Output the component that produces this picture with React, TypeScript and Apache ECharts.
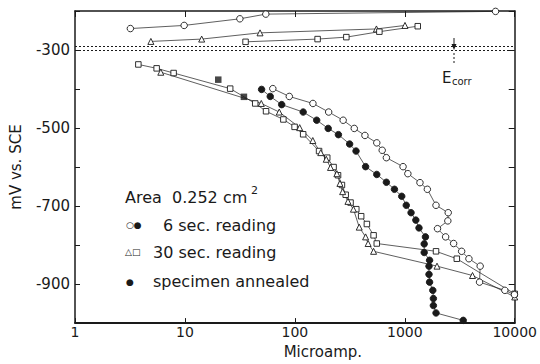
import React, { useEffect, useRef } from "react";
import * as echarts from "echarts";

// Tick labels shown on the potential axis
const yLabels = [-300, -500, -700, -900];

// Anodic branches (current in microamp, potential in mV vs SCE)
const circlesAnodic = [[3.19, -245], [9.84, -237], [31.6, -220], [54.4, -208], [6690, -201]];
const trianglesAnodic = [[4.9, -278], [14.2, -272], [48.2, -256], [552, -246], [1004, -237]];
const squaresAnodic = [[35.6, -279], [161, -272], [294, -267], [587, -253], [1312, -239]];

// Cathodic branches, 30 sec reading
const squaresCathodic = [
  [3.77, -337], [5.53, -347], [7.89, -359], [25.8, -399], [43.6, -437], [54.7, -457],
  [78.6, -478], [99.4, -497], [119, -516], [166, -559], [197, -576], [225, -600],
  [247, -621], [268, -646], [290, -671], [321, -691], [362, -708], [401, -726],
  [452, -746], [520, -775], [556, -796], [1923, -816], [2972, -835], [10000, -925],
];
const trianglesCathodic = [
  [6.03, -357], [49.5, -437], [72.1, -459], [110.6, -499], [145.6, -532], [172, -563],
  [193, -580], [211, -601], [241, -617], [257, -642], [272, -663], [304, -688],
  [341, -708], [385, -754], [440, -779], [464, -796], [520, -816], [1963, -854],
  [4130, -878], [10000, -933],
];
const filledSquares = [[20.1, -376], [34.4, -420]];

// Cathodic branches, 6 sec reading
const circlesCathodic = [
  [63, -399], [89, -419], [146, -437], [203, -459], [275, -480], [347, -501], [434, -519],
  [556, -538], [623, -557], [680, -576], [964, -599], [1066, -617], [1374, -640],
  [1604, -657], [1922, -698], [2483, -717], [2462, -738], [1983, -758], [2351, -779],
  [2780, -796], [3288, -816], [3830, -835], [4850, -854], [4785, -895], [8130, -916],
  [9940, -927],
];
const filledCircles = [
  [49.8, -401], [59.7, -419], [75.9, -440], [119, -459], [158, -480], [201, -501],
  [249, -517], [315, -541], [360, -559], [440, -599], [556, -619], [680, -639],
  [805, -657], [938, -675], [1031, -698], [1140, -717], [1260, -736], [1346, -756],
  [1541, -779], [1501, -797], [1501, -819], [1680, -839], [1660, -854], [1660, -875],
  [1680, -895], [1798, -916], [1820, -937], [1820, -955], [1923, -974], [3400, -993],
];

// Corrosion potential band
const ecorrLines = [-290.5, -301.5];

const FONT = "DejaVu Sans";
const INK = "#1a1a1a";

function lineSeries(data: number[][], symbol: string, size: number, filled: boolean, name: string) {
  return {
    name,
    type: "line",
    data,
    symbol,
    symbolSize: size,
    showAllSymbol: true,
    lineStyle: { color: INK, width: 0.7 },
    itemStyle: { color: filled ? INK : "#fff", borderColor: INK, borderWidth: 0.9 },
    z: 3,
  };
}

export default function App() {
  const ref = useRef<HTMLDivElement>(null);
  useEffect(() => {
    if (!ref.current) return;
    const chart = echarts.init(ref.current, null, { renderer: "svg" });
    const option: any = {
      animation: false,
      backgroundColor: "#fff",
      grid: { left: 74, right: 8, top: 11, bottom: 32 },
      xAxis: [
        {
          type: "log",
          logBase: 10,
          min: 1,
          max: 10000,
          position: "bottom",
          name: "Microamp.",
          nameLocation: "middle",
          nameGap: 13,
          nameTextStyle: { fontFamily: FONT, fontSize: 15, color: INK, padding: [0, 0, 0, 56] },
          axisLine: { lineStyle: { color: INK, width: 1.8 } },
          axisTick: { inside: true, length: 5, lineStyle: { color: INK } },
          minorTick: { show: false },
          splitLine: { show: false },
          axisLabel: {
            fontFamily: FONT,
            fontSize: 14,
            color: INK,
            margin: 2,
            formatter: (v: number) => String(Math.round(v)),
          },
        },
        {
          type: "log",
          logBase: 10,
          min: 1,
          max: 10000,
          position: "top",
          axisLine: { lineStyle: { color: INK, width: 1.5 } },
          axisTick: { inside: true, length: 6, lineStyle: { color: INK } },
          axisLabel: { show: false },
          splitLine: { show: false },
        },
      ],
      yAxis: [
        {
          type: "value",
          min: -1000,
          max: -200,
          interval: 100,
          name: "mV vs. SCE",
          nameLocation: "middle",
          nameGap: 52,
          nameRotate: 90,
          nameTextStyle: { fontFamily: FONT, fontSize: 15, color: INK },
          axisLine: { show: true, lineStyle: { color: INK, width: 1.5 } },
          axisTick: { show: true, inside: true, length: 5, lineStyle: { color: INK } },
          splitLine: { show: false },
          axisLabel: {
            fontFamily: FONT,
            fontSize: 15,
            color: INK,
            margin: 5,
            formatter: (v: number) => (yLabels.includes(v) ? String(v) : ""),
          },
        },
        {
          type: "value",
          min: -1000,
          max: -200,
          interval: 100,
          position: "right",
          axisLine: { show: true, lineStyle: { color: INK, width: 1.5 } },
          axisTick: { show: true, inside: true, length: 6, lineStyle: { color: INK } },
          axisLabel: { show: false },
          splitLine: { show: false },
        },
      ],
      series: [
        {
          ...lineSeries(circlesAnodic, "circle", 6.5, false, "6 sec anodic"),
          markLine: {
            silent: true,
            symbol: "none",
            label: { show: false },
            lineStyle: { color: INK, width: 1, type: [2, 2] },
            data: ecorrLines.map((v) => ({ yAxis: v })),
          },
        },
        lineSeries(trianglesAnodic, "triangle", 6, false, "30 sec anodic A"),
        lineSeries(squaresAnodic, "rect", 5.5, false, "30 sec anodic B"),
        lineSeries(squaresCathodic, "rect", 5.5, false, "30 sec cathodic B"),
        lineSeries(trianglesCathodic, "triangle", 6, false, "30 sec cathodic A"),
        {
          name: "30 sec filled",
          type: "scatter",
          data: filledSquares,
          symbol: "rect",
          symbolSize: 6.5,
          itemStyle: { color: INK },
          z: 4,
        },
        lineSeries(circlesCathodic, "circle", 6.5, false, "6 sec cathodic"),
        lineSeries(filledCircles, "circle", 6.5, true, "specimen annealed"),
      ],
      graphic: [
        { type: "line", shape: { x1: 454, y1: 38, x2: 454, y2: 46 }, style: { stroke: INK, lineWidth: 1 } },
        { type: "polygon", shape: { points: [[451.5, 44], [456.5, 44], [454, 50]] }, style: { fill: INK } },
        { type: "line", shape: { x1: 454, y1: 53, x2: 454, y2: 64 }, style: { stroke: INK, lineWidth: 1, lineDash: [2, 2] } },
        { type: "text", x: 442, y: 70, style: { text: "E", font: `15px ${FONT}`, fill: INK } },
        { type: "text", x: 452, y: 76, style: { text: "corr", font: `10px ${FONT}`, fill: INK } },
        { type: "text", x: 125, y: 189, style: { text: "Area  0.252 cm", font: `16px ${FONT}`, fill: INK } },
        { type: "text", x: 251, y: 185, style: { text: "2", font: `11px ${FONT}`, fill: INK } },
        { type: "text", x: 126, y: 220, style: { text: "○●", font: `9px ${FONT}`, fill: INK } },
        { type: "text", x: 163, y: 217, style: { text: "6 sec. reading", font: `16px ${FONT}`, fill: INK } },
        { type: "text", x: 125, y: 247, style: { text: "△□", font: `9px ${FONT}`, fill: INK } },
        { type: "text", x: 153, y: 244, style: { text: "30 sec. reading", font: `16px ${FONT}`, fill: INK } },
        { type: "text", x: 126, y: 277, style: { text: "●", font: `9px ${FONT}`, fill: INK } },
        { type: "text", x: 153, y: 273, style: { text: "specimen annealed", font: `16px ${FONT}`, fill: INK } },
      ],
    };
    chart.setOption(option);
    return () => chart.dispose();
  }, []);
  return (
    <div
      ref={ref}
      style={{ position: "absolute", left: 0, top: 0, width: 540, height: 364 }}
    />
  );
}
